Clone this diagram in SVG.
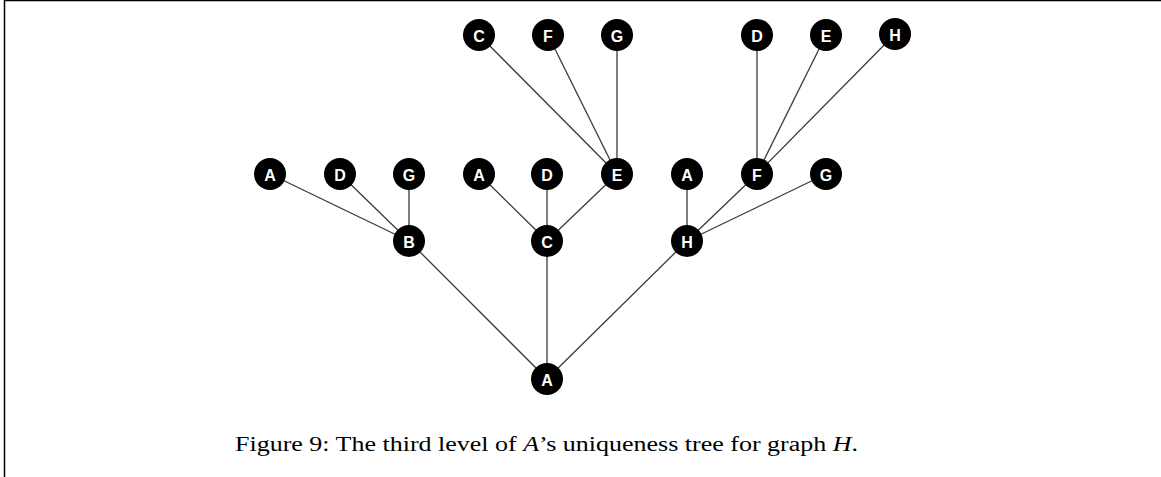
<svg xmlns="http://www.w3.org/2000/svg" width="1161" height="477" viewBox="0 0 1161 477">
<style>
.n circle{fill:#000}
.n text{fill:#fff;font-family:"Liberation Sans",Arial,sans-serif;font-weight:bold;font-size:16px;text-anchor:middle;dominant-baseline:central}
#edges line{stroke:#3a3a3a;stroke-width:1.3}
.cap{font-family:"Liberation Serif","Times New Roman",serif;font-size:20.5px;fill:#000}
</style>
<rect width="1161" height="477" fill="#fff"/>
<path d="M4.5 477V0.5H1161" fill="none" stroke="#000" stroke-width="1.5"/>
<g id="edges">
<line x1="547" y1="379" x2="409" y2="241"/>
<line x1="547" y1="379" x2="547" y2="241"/>
<line x1="547" y1="379" x2="687" y2="241"/>
<line x1="409" y1="241" x2="270" y2="174"/>
<line x1="409" y1="241" x2="340" y2="174"/>
<line x1="409" y1="241" x2="409" y2="174"/>
<line x1="547" y1="241" x2="479" y2="174"/>
<line x1="547" y1="241" x2="547" y2="174"/>
<line x1="547" y1="241" x2="617" y2="174"/>
<line x1="687" y1="241" x2="687" y2="174"/>
<line x1="687" y1="241" x2="757" y2="174"/>
<line x1="687" y1="241" x2="826" y2="174"/>
<line x1="617" y1="174" x2="479" y2="35"/>
<line x1="617" y1="174" x2="548" y2="35"/>
<line x1="617" y1="174" x2="617" y2="35"/>
<line x1="757" y1="174" x2="757" y2="35"/>
<line x1="757" y1="174" x2="826" y2="35"/>
<line x1="757" y1="174" x2="895" y2="34"/>
</g>
<g id="n0" class="n"><circle cx="547" cy="379" r="16"/><text x="547" y="380">A</text></g>
<g id="n1" class="n"><circle cx="409" cy="241" r="16"/><text x="409" y="242">B</text></g>
<g id="n2" class="n"><circle cx="547" cy="241" r="16"/><text x="547" y="242">C</text></g>
<g id="n3" class="n"><circle cx="687" cy="241" r="16"/><text x="687" y="242">H</text></g>
<g id="n4" class="n"><circle cx="270" cy="174" r="16"/><text x="270" y="175">A</text></g>
<g id="n5" class="n"><circle cx="340" cy="174" r="16"/><text x="340" y="175">D</text></g>
<g id="n6" class="n"><circle cx="409" cy="174" r="16"/><text x="409" y="175">G</text></g>
<g id="n7" class="n"><circle cx="479" cy="174" r="16"/><text x="479" y="175">A</text></g>
<g id="n8" class="n"><circle cx="547" cy="174" r="16"/><text x="547" y="175">D</text></g>
<g id="n9" class="n"><circle cx="617" cy="174" r="16"/><text x="617" y="175">E</text></g>
<g id="n10" class="n"><circle cx="687" cy="174" r="16"/><text x="687" y="175">A</text></g>
<g id="n11" class="n"><circle cx="757" cy="174" r="16"/><text x="757" y="175">F</text></g>
<g id="n12" class="n"><circle cx="826" cy="174" r="16"/><text x="826" y="175">G</text></g>
<g id="n13" class="n"><circle cx="479" cy="35" r="16"/><text x="479" y="36">C</text></g>
<g id="n14" class="n"><circle cx="548" cy="35" r="16"/><text x="548" y="36">F</text></g>
<g id="n15" class="n"><circle cx="617" cy="35" r="16"/><text x="617" y="36">G</text></g>
<g id="n16" class="n"><circle cx="757" cy="35" r="16"/><text x="757" y="36">D</text></g>
<g id="n17" class="n"><circle cx="826" cy="35" r="16"/><text x="826" y="36">E</text></g>
<g id="n18" class="n"><circle cx="895" cy="34" r="16"/><text x="895" y="35">H</text></g>
<text class="cap" x="235" y="451" textLength="623" lengthAdjust="spacingAndGlyphs">Figure 9: The third level of <tspan font-style="italic">A</tspan>’s uniqueness tree for graph <tspan font-style="italic">H</tspan>.</text>
</svg>
